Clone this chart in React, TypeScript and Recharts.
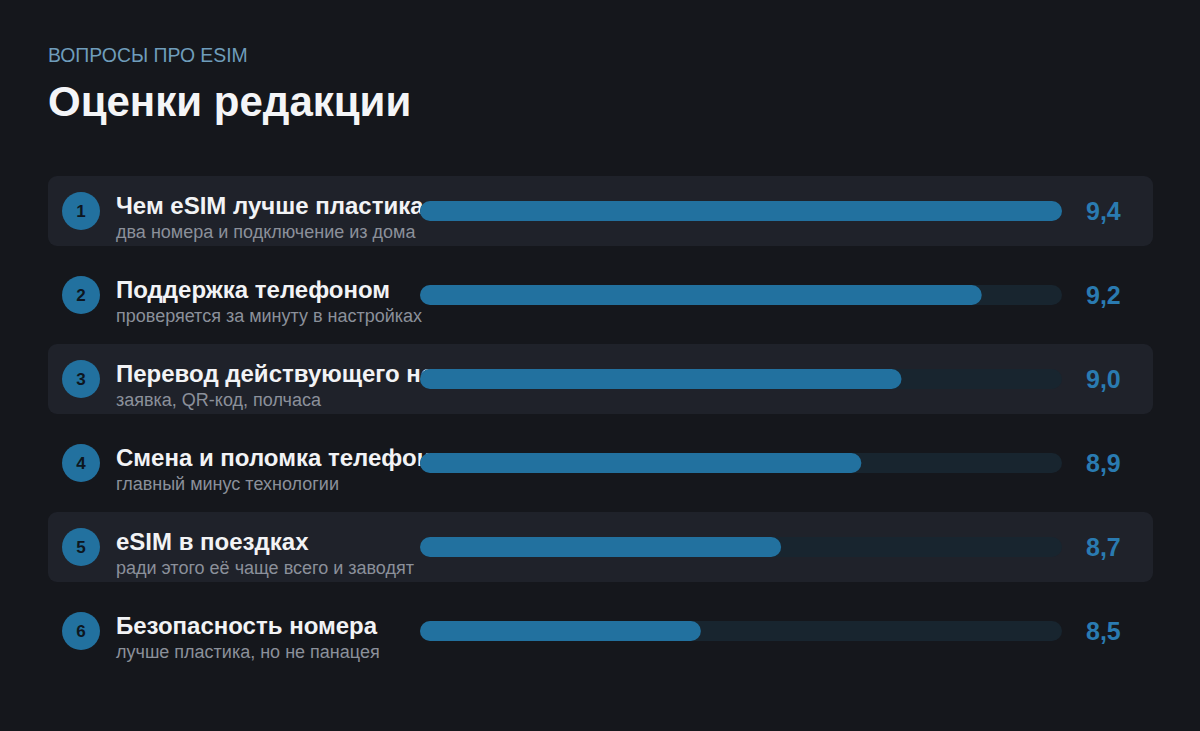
import { Bar, BarChart, XAxis, YAxis } from "recharts";

const titles = [
  "Чем eSIM лучше пластика",
  "Поддержка телефоном",
  "Перевод действующего номера",
  "Смена и поломка телефона",
  "eSIM в поездках",
  "Безопасность номера",
];

const subtitles = [
  "два номера и подключение из дома",
  "проверяется за минуту в настройках",
  "заявка, QR-код, полчаса",
  "главный минус технологии",
  "ради этого её чаще всего и заводят",
  "лучше пластика, но не панацея",
];

const scores = [9.4, 9.2, 9.0, 8.9, 8.7, 8.5];

const data = titles.map((name, i) => ({ name, score: scores[i] }));

const FONT = "'Liberation Sans', Arial, sans-serif";
const BG = "#15171c";
const PANEL = "#1f222a";
const BAR = "#22719f";
const TRACK = "#18252f";
const ACCENT = "#2a7bb1";

const fmt = (v: number) => v.toFixed(1).replace(".", ",");

// Row furniture: panel, rank badge, labels, track and score.
// Drawn as the bar background so the bars sit on top of the titles.
function RowBackground(props: any) {
  const { x, y, width, height, index } = props;
  const cy = y + height / 2;
  return (
    <g>
      {index % 2 === 0 && (
        <rect x={48} y={cy - 35} width={1105} height={70} rx={9} fill={PANEL} />
      )}
      <circle cx={81} cy={cy} r={19} fill={BAR} />
      <text
        x={81}
        y={cy + 6}
        textAnchor="middle"
        fontFamily={FONT}
        fontWeight={700}
        fontSize={17}
        fill="#0d1620"
      >
        {index + 1}
      </text>
      <text x={116} y={cy + 3} fontFamily={FONT} fontWeight={700} fontSize={24} fill="#f2f3f5">
        {titles[index]}
      </text>
      <text x={116} y={cy + 27} fontFamily={FONT} fontSize={18} fill="#8b909a">
        {subtitles[index]}
      </text>
      <rect x={x} y={y} width={width} height={height} rx={height / 2} fill={TRACK} />
      <text
        x={x + width + 24}
        y={cy + 9}
        fontFamily={FONT}
        fontWeight={700}
        fontSize={25}
        fill={ACCENT}
      >
        {fmt(scores[index])}
      </text>
    </g>
  );
}

export default function App() {
  return (
    <div
      style={{
        position: "fixed",
        top: 0,
        left: 0,
        width: 1200,
        height: 731,
        background: BG,
      }}
    >
      <svg
        width={1200}
        height={140}
        style={{ position: "absolute", top: 0, left: 0, pointerEvents: "none" }}
      >
        <text x={48} y={62} fontFamily={FONT} fontSize={19.4} fill="#6f9dbb">
          ВОПРОСЫ ПРО ESIM
        </text>
        <text x={48} y={116} fontFamily={FONT} fontWeight={700} fontSize={42} fill="#f4f5f7">
          Оценки редакции
        </text>
      </svg>
      <BarChart
        width={1200}
        height={731}
        data={data}
        layout="vertical"
        margin={{ top: 169, right: 138, bottom: 58, left: 420 }}
        barSize={20}
      >
        <XAxis type="number" domain={[7.8, 9.4]} hide allowDataOverflow />
        <YAxis type="category" dataKey="name" hide />
        <Bar
          dataKey="score"
          fill={BAR}
          radius={10}
          background={<RowBackground />}
          isAnimationActive={false}
        />
      </BarChart>
    </div>
  );
}
